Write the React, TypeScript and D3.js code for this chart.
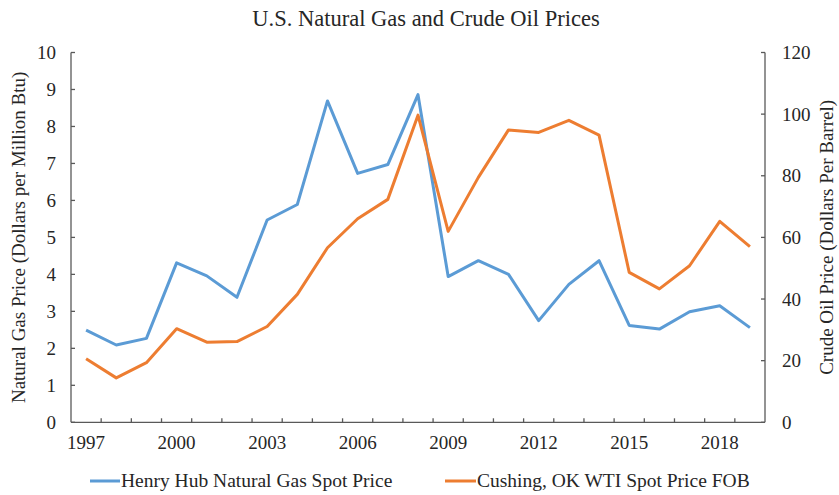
import React from "react";
import * as d3 from "d3";

const years = ["1997","1998","1999","2000","2001","2002","2003","2004","2005","2006","2007","2008","2009","2010","2011","2012","2013","2014","2015","2016","2017","2018","2019"];
const gasPrices = [2.49,2.09,2.27,4.31,3.96,3.38,5.47,5.89,8.69,6.73,6.97,8.86,3.94,4.37,4.00,2.75,3.73,4.37,2.62,2.52,2.99,3.15,2.56];
const oilPrices = [20.61,14.42,19.34,30.38,25.98,26.18,31.08,41.51,56.64,66.05,72.34,99.67,61.95,79.48,94.88,94.05,97.98,93.17,48.66,43.29,50.80,65.23,56.99];
const leftTicks = [0,1,2,3,4,5,6,7,8,9,10];
const rightTicks = [0,20,40,60,80,100,120];
const xLabelYears = ["1997","2000","2003","2006","2009","2012","2015","2018"];

const W = 839, H = 495;
const L = 71, R = 765, T = 52.5, B = 422.3;
const FONT = "'Liberation Serif', 'Times New Roman', serif";
const BLUE = "#5B9BD5", ORANGE = "#ED7D31", AXIS = "#595959", TEXT = "#262626";
const FS = 19;

export default function App() {
  const x = d3.scaleBand<string>().domain(years).range([L, R]);
  const yL = d3.scaleLinear().domain([0, 10]).range([B, T]);
  const yR = d3.scaleLinear().domain([0, 120]).range([B, T]);
  const cx = (y: string) => (x(y) as number) + x.bandwidth() / 2;
  const gasLine = d3.line<number>().x((_, i) => cx(years[i])).y(d => yL(d));
  const oilLine = d3.line<number>().x((_, i) => cx(years[i])).y(d => yR(d));
  const boundaries = years.map(y => x(y) as number).concat([R]);

  return (
    <svg width={W} height={H} style={{ position: "absolute", left: 0, top: 0, background: "#fff" }}>
      <text x={426} y={26} textAnchor="middle" fontFamily={FONT} fontSize={22.5} fill={TEXT}>U.S. Natural Gas and Crude Oil Prices</text>
      {/* axes */}
      <g stroke={AXIS} strokeWidth={1.3} fill="none">
        <line x1={L} y1={T} x2={L} y2={B} />
        <line x1={R} y1={T} x2={R} y2={B} />
        <line x1={L} y1={B} x2={R} y2={B} />
        {leftTicks.map(t => <line key={"lt" + t} x1={L} x2={L + 4} y1={yL(t)} y2={yL(t)} />)}
        {rightTicks.map(t => <line key={"rt" + t} x1={R - 4} x2={R} y1={yR(t)} y2={yR(t)} />)}
        {boundaries.slice(1, -1).map((b, i) => <line key={"xt" + i} x1={b} x2={b} y1={B} y2={B - 4} />)}
      </g>
      <g fontFamily={FONT} fontSize={FS} fill={TEXT}>
        {leftTicks.map(t => <text key={"ll" + t} x={56} y={yL(t) + 6.5} textAnchor="end">{t}</text>)}
        {rightTicks.map(t => <text key={"rl" + t} x={782} y={yR(t) + 6.5} textAnchor="start">{t}</text>)}
        {xLabelYears.map(y => <text key={"xl" + y} x={cx(y)} y={449} textAnchor="middle">{y}</text>)}
      </g>
      <text transform={`translate(25,${(T + B) / 2}) rotate(-90)`} textAnchor="middle" fontFamily={FONT} fontSize={FS} fill={TEXT}>Natural Gas Price (Dollars per Million Btu)</text>
      <text transform={`translate(833,${(T + B) / 2}) rotate(-90)`} textAnchor="middle" fontFamily={FONT} fontSize={FS} fill={TEXT}>Crude Oil Price (Dollars Per Barrel)</text>
      <path d={gasLine(gasPrices) || ""} fill="none" stroke={BLUE} strokeWidth={3} strokeLinejoin="round" />
      <path d={oilLine(oilPrices) || ""} fill="none" stroke={ORANGE} strokeWidth={3} strokeLinejoin="round" />
      {/* legend */}
      <line x1={90} x2={120} y1={481} y2={481} stroke={BLUE} strokeWidth={3} />
      <text x={121} y={487} fontFamily={FONT} fontSize={19.5} fill={TEXT}>Henry Hub Natural Gas Spot Price</text>
      <line x1={445} x2={476} y1={481} y2={481} stroke={ORANGE} strokeWidth={3} />
      <text x={477} y={487} fontFamily={FONT} fontSize={19.5} fill={TEXT}>Cushing, OK WTI Spot Price FOB</text>
    </svg>
  );
}
